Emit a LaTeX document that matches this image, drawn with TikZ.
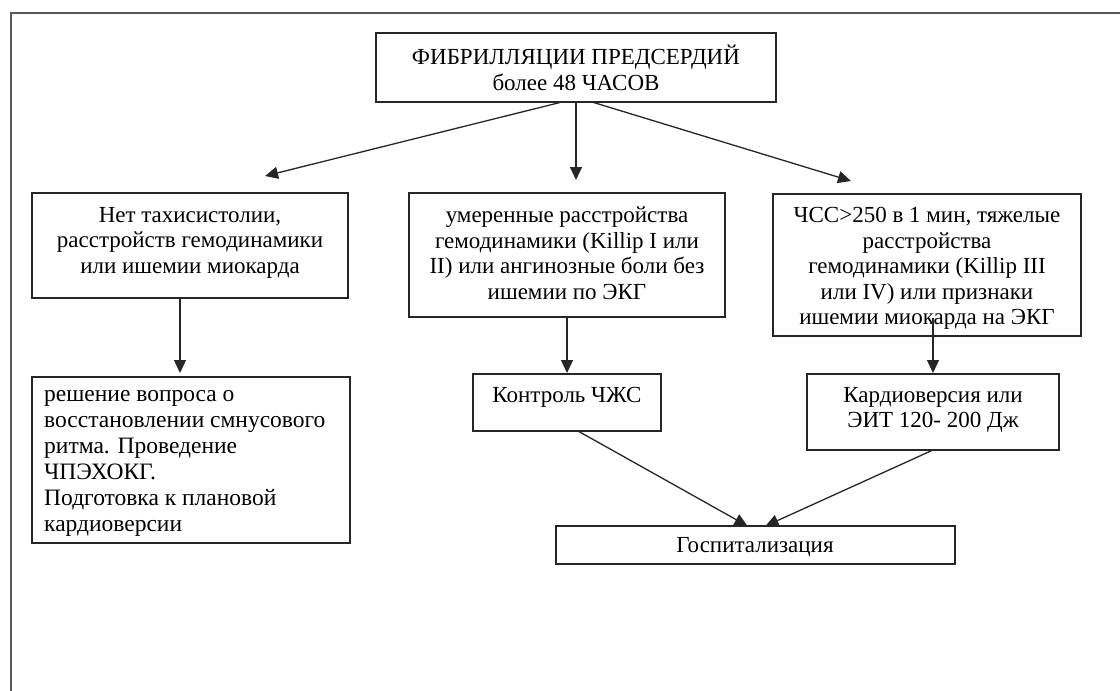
\documentclass[tikz,border=0pt]{standalone}
\usepackage{fontspec}
\setmainfont{Liberation Serif}
\usetikzlibrary{arrows.meta}
\tikzset{
  box/.style={draw=black!85, line width=1.3pt, anchor=north west, inner sep=0pt, outer sep=0pt},
  txt/.style={align=center, font=\fontsize{23}{25.5}\selectfont, inner sep=0pt, anchor=north},
  ltxt/.style={align=left, font=\fontsize{23.5}{26}\selectfont, inner sep=0pt, anchor=north west},
  arr/.style={draw=black!85, line width=1.3pt, -{Triangle[length=13pt,width=12pt]}},
  frame/.style={draw=black!65, line width=1.6pt}
}
\begin{document}
\begin{tikzpicture}[x=1pt,y=-1pt]
\useasboundingbox (0,0) rectangle (1120,691);
\draw[frame] (11,691) -- (11,13) -- (1120,13);

% boxes
\node[box, minimum width=400pt, minimum height=69pt] (top) at (376,33) {};
\node[box, minimum width=316pt, minimum height=105pt] (b1) at (32,193) {};
\node[box, minimum width=316pt, minimum height=124pt] (b2) at (409,193) {};
\node[box, minimum width=308pt, minimum height=142pt] (b3) at (773,194) {};
\node[box, minimum width=318pt, minimum height=166pt] (b4) at (32,377) {};
\node[box, minimum width=188pt, minimum height=57pt] (b5) at (473,374) {};
\node[box, minimum width=252pt, minimum height=76pt] (b6) at (807,374) {};
\node[box, minimum width=399pt, minimum height=38pt] (b7) at (556,526) {};

% texts
\node[txt] (ttop) at (576,45) {ФИБРИЛЛЯЦИИ ПРЕДСЕРДИЙ\\более 48 ЧАСОВ};
\node[txt] (t1) at (190,207) {Нет тахисистолии,\\расстройств гемодинамики\\или ишемии миокарда};
\node[txt] (t2) at (567,207) {умеренные расстройства\\гемодинамики (Killip I или\\II) или ангинозные боли без\\ишемии по ЭКГ};
\node[txt] (t3) at (927,207) {ЧСС>250 в 1 мин, тяжелые\\расстройства\\гемодинамики (Killip III\\или IV) или признаки\\ишемии миокарда на ЭКГ};
\node[ltxt] (t4) at (44,390) {решение вопроса о\\восстановлении смнусового\\ритма. Проведение\\ЧПЭХОКГ.\\Подготовка к плановой\\кардиоверсии};
\node[txt] (t5) at (567,387) {Контроль ЧЖС};
\node[txt] (t6) at (933,387) {Кардиоверсия или\\ЭИТ 120- 200 Дж};
\node[txt] (t7) at (755,537) {Госпитализация};

% free ends
\coordinate (e1) at (265,176);
\coordinate (e2) at (576,180);
\coordinate (e3) at (851,181);

% connectors
\draw[arr] ([xshift=-14pt]top.south) -- (e1);
\draw[arr] (top.south) -- (e2);
\draw[arr] ([xshift=16pt]top.south) -- (e3);
\draw[arr, shorten >=4pt] ([xshift=-10pt]b1.south) -- ([xshift=-10pt]b1.south |- b4.north);
\draw[arr, shorten >=1pt] (b2.south) -- (b5.north);
\draw[arr, shorten >=1pt] ([xshift=6pt,yshift=18pt]b3.south) -- (b6.north);
\draw[arr] ([xshift=11pt]b5.south) -- ([xshift=-8pt]b7.north);
\draw[arr] (b6.south) -- ([xshift=10pt]b7.north);
\end{tikzpicture}
\end{document}
